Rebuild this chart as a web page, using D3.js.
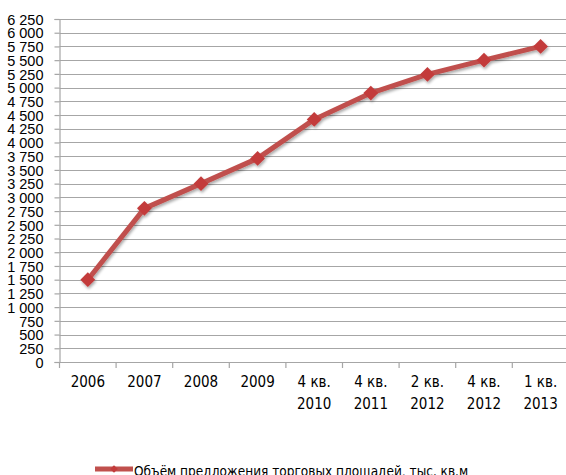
<!DOCTYPE html>
<html><head><meta charset="utf-8">
<script src="https://cdn.jsdelivr.net/npm/d3@7"></script>
<style>
body{margin:0;background:#fff;}
svg{display:block;font-family:"Liberation Sans Narrow","DejaVu Sans Condensed","Arial Narrow",sans-serif;}
</style></head>
<body><svg id="c" width="566" height="475"></svg>
<script>
const categories = [["2006"],["2007"],["2008"],["2009"],["4 кв.","2010"],["4 кв.","2011"],["2 кв.","2012"],["4 кв.","2012"],["1 кв.","2013"]];
const values = [1500, 2800, 3250, 3710, 4420, 4900, 5240, 5500, 5750];
const yTicks = d3.range(0, 6251, 250);
const seriesName = "Объём предложения торговых площадей, тыс. кв.м";

(function(){
const svg = d3.select("#c");
const pl = 59.5, pt = 19, pb = 362, bw = 56.6;
const x = d3.scaleBand().domain(categories.map((d,i)=>i)).range([pl, pl + bw*categories.length]).padding(0);
const y = d3.scaleLinear().domain([0, 6250]).range([pb, pt]);
const fmt = v => d3.format(",")(v).replace(/,/g, " ");

// gridlines
svg.append("g").selectAll("line").data(yTicks.filter(v=>v>0)).join("line")
  .attr("x1", pl).attr("x2", 566)
  .attr("y1", d=>Math.round(y(d))+0.5).attr("y2", d=>Math.round(y(d))+0.5)
  .attr("stroke", "#a6a6a6").attr("stroke-width", 1.2);

// y axis
const ya = svg.append("g").attr("transform", `translate(${pl},0)`)
  .call(d3.axisLeft(y).tickValues(yTicks).tickFormat(fmt).tickSize(5).tickPadding(11));
ya.select(".domain").attr("stroke", "#a6a6a6").attr("stroke-width", 1.2);
ya.selectAll(".tick line").attr("stroke", "#a6a6a6").attr("stroke-width", 1.2);
ya.selectAll("text").attr("font-size", 14.5).attr("fill", "#000").attr("dy", "0.36em");

// x axis
const xa = svg.append("g").attr("transform", `translate(0,${pb})`)
  .call(d3.axisBottom(x).tickValues([]).tickSizeOuter(0));
xa.select(".domain").attr("stroke", "#a6a6a6").attr("stroke-width", 1.2).attr("d", `M${pl},0.5H566`);
svg.append("g").selectAll("line").data(categories.map((d,i)=>i)).join("line")
  .attr("x1", d=>x(d)).attr("x2", d=>x(d)).attr("y1", pb).attr("y2", pb+6)
  .attr("stroke", "#a6a6a6").attr("stroke-width", 1.2);
const lab = svg.append("g").selectAll("text").data(categories).join("text")
  .attr("x", (d,i)=>x(i)+x.bandwidth()/2).attr("y", 387)
  .attr("text-anchor", "middle").attr("font-size", 15).attr("fill", "#000");
lab.each(function(d){
  const t = d3.select(this);
  d.forEach((s,j)=>t.append("tspan").attr("x", t.attr("x")).attr("dy", j?22:0).text(s));
});

// shadow filter
const defs = svg.append("defs");
const f = defs.append("filter").attr("id","sh").attr("x","-20%").attr("y","-20%").attr("width","140%").attr("height","140%");
f.append("feGaussianBlur").attr("in","SourceAlpha").attr("stdDeviation",1.5);
f.append("feOffset").attr("dx",1).attr("dy",2).attr("result","b");
f.append("feComponentTransfer").append("feFuncA").attr("type","linear").attr("slope",0.35);
const m = f.append("feMerge"); m.append("feMergeNode"); m.append("feMergeNode").attr("in","SourceGraphic");

const g = svg.append("g").attr("filter","url(#sh)");
const line = d3.line().x((d,i)=>x(i)+x.bandwidth()/2).y(d=>y(d));
g.append("path").datum(values).attr("d", line).attr("fill","none")
  .attr("stroke","#c0504d").attr("stroke-width",5).attr("stroke-linejoin","round");
g.selectAll("path.m").data(values).join("path").attr("class","m")
  .attr("d", d3.symbol().type(d3.symbolSquare).size(110))
  .attr("transform",(d,i)=>`translate(${x(i)+x.bandwidth()/2},${y(d)}) rotate(45)`)
  .attr("fill","#c33b3b");

// legend
const lg = svg.append("g");
lg.append("line").attr("x1",95).attr("x2",133).attr("y1",469).attr("y2",469)
  .attr("stroke","#c0504d").attr("stroke-width",5);
lg.append("path").attr("transform","translate(114,469) rotate(45)")
  .attr("d", d3.symbol().type(d3.symbolSquare).size(30)).attr("fill","#c33b3b");
lg.append("text").attr("x",134).attr("y",476).attr("font-size",13.5).attr("fill","#000")
  .attr("font-family","'DejaVu Sans Condensed','Liberation Sans Narrow',sans-serif").text(seriesName);
})();
</script></body></html>
